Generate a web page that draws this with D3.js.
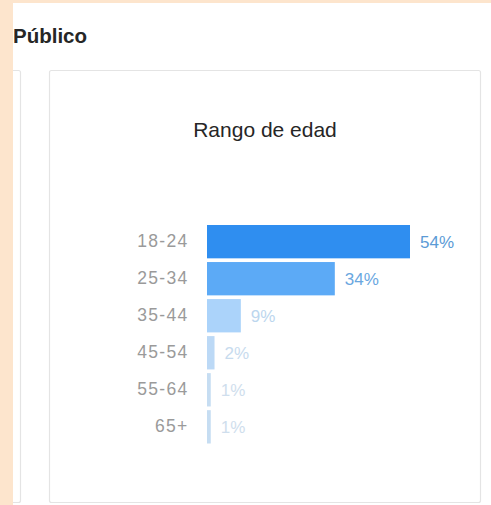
<!DOCTYPE html>
<html>
<head>
<meta charset="utf-8">
<script src="https://cdn.jsdelivr.net/npm/d3@7"></script>
<style>
  html, body { margin: 0; padding: 0; background: #fff; }
  svg { display: block; }
  text { font-family: "Liberation Sans", Arial, Helvetica, sans-serif; }
</style>
</head>
<body>
<script>
const categories = ["18-24", "25-34", "35-44", "45-54", "55-64", "65+"];
const values = [54, 34, 9, 2, 1, 1];
const barColors = ["#2f8ef0", "#5caaf6", "#abd3fa", "#bcd9f6", "#c6ddf2", "#c6ddf2"];
const labelColors = ["#5b9bd6", "#6aa7df", "#bcd6ee", "#c7dbee", "#cfdeed", "#cfdeed"];

const W = 491, H = 505;
const svg = d3.select("body").append("svg").attr("width", W).attr("height", H);

// background
svg.append("rect").attr("width", W).attr("height", H).attr("fill", "#ffffff");
svg.append("rect").attr("x", 0).attr("y", 0).attr("width", W).attr("height", 3).attr("fill", "#fde5cd");

// section title
svg.append("text").attr("x", 13).attr("y", 43)
  .attr("font-size", 20.5).attr("font-weight", "bold").attr("fill", "#262626")
  .text("Público");

// left card (partially visible)
svg.append("rect").attr("x", -20).attr("y", 70.5).attr("width", 40.5).attr("height", 432)
  .attr("fill", "#fff").attr("stroke", "#e4e4e4").attr("stroke-width", 1.2).attr("rx", 2);
svg.append("rect").attr("x", 0).attr("y", 0).attr("width", 13).attr("height", H).attr("fill", "#fde5cd");

// main card
svg.append("rect").attr("x", 49.5).attr("y", 70.5).attr("width", 431).attr("height", 432)
  .attr("fill", "#fff").attr("stroke", "#e4e4e4").attr("stroke-width", 1.2).attr("rx", 2);

// chart title
svg.append("text").attr("x", 265).attr("y", 137).attr("text-anchor", "middle")
  .attr("font-size", 21).attr("fill", "#262626").text("Rango de edad");

// scales
const x = d3.scaleLinear().domain([0, 54]).range([207, 410]);
const y = d3.scaleBand().domain(categories).range([225, 443.5]).paddingInner(0.1).paddingOuter(0);

const g = svg.append("g");

g.selectAll("rect.bar").data(values).enter().append("rect")
  .attr("class", "bar")
  .attr("x", x(0))
  .attr("y", (d, i) => y(categories[i]))
  .attr("width", d => Math.max(3.5, x(d) - x(0)))
  .attr("height", y.bandwidth())
  .attr("fill", (d, i) => barColors[i]);

// category labels via axis
const axis = d3.axisLeft(y).tickSize(0).tickPadding(0);
const ax = svg.append("g").attr("transform", `translate(${188.5},0)`).call(axis);
ax.select(".domain").remove();
ax.selectAll("text")
  .attr("font-family", "'Liberation Sans', Arial, sans-serif")
  .attr("font-size", 17.5).attr("fill", "#9a9a9a")
  .style("letter-spacing", "1.3px");

// value labels
g.selectAll("text.val").data(values).enter().append("text")
  .attr("class", "val")
  .attr("x", d => x(0) + Math.max(3.5, x(d) - x(0)) + 10)
  .attr("y", (d, i) => y(categories[i]) + y.bandwidth() / 2)
  .attr("dy", "0.35em")
  .attr("font-size", 17)
  .attr("fill", (d, i) => labelColors[i])
  .text(d => d + "%");
</script>
</body>
</html>
